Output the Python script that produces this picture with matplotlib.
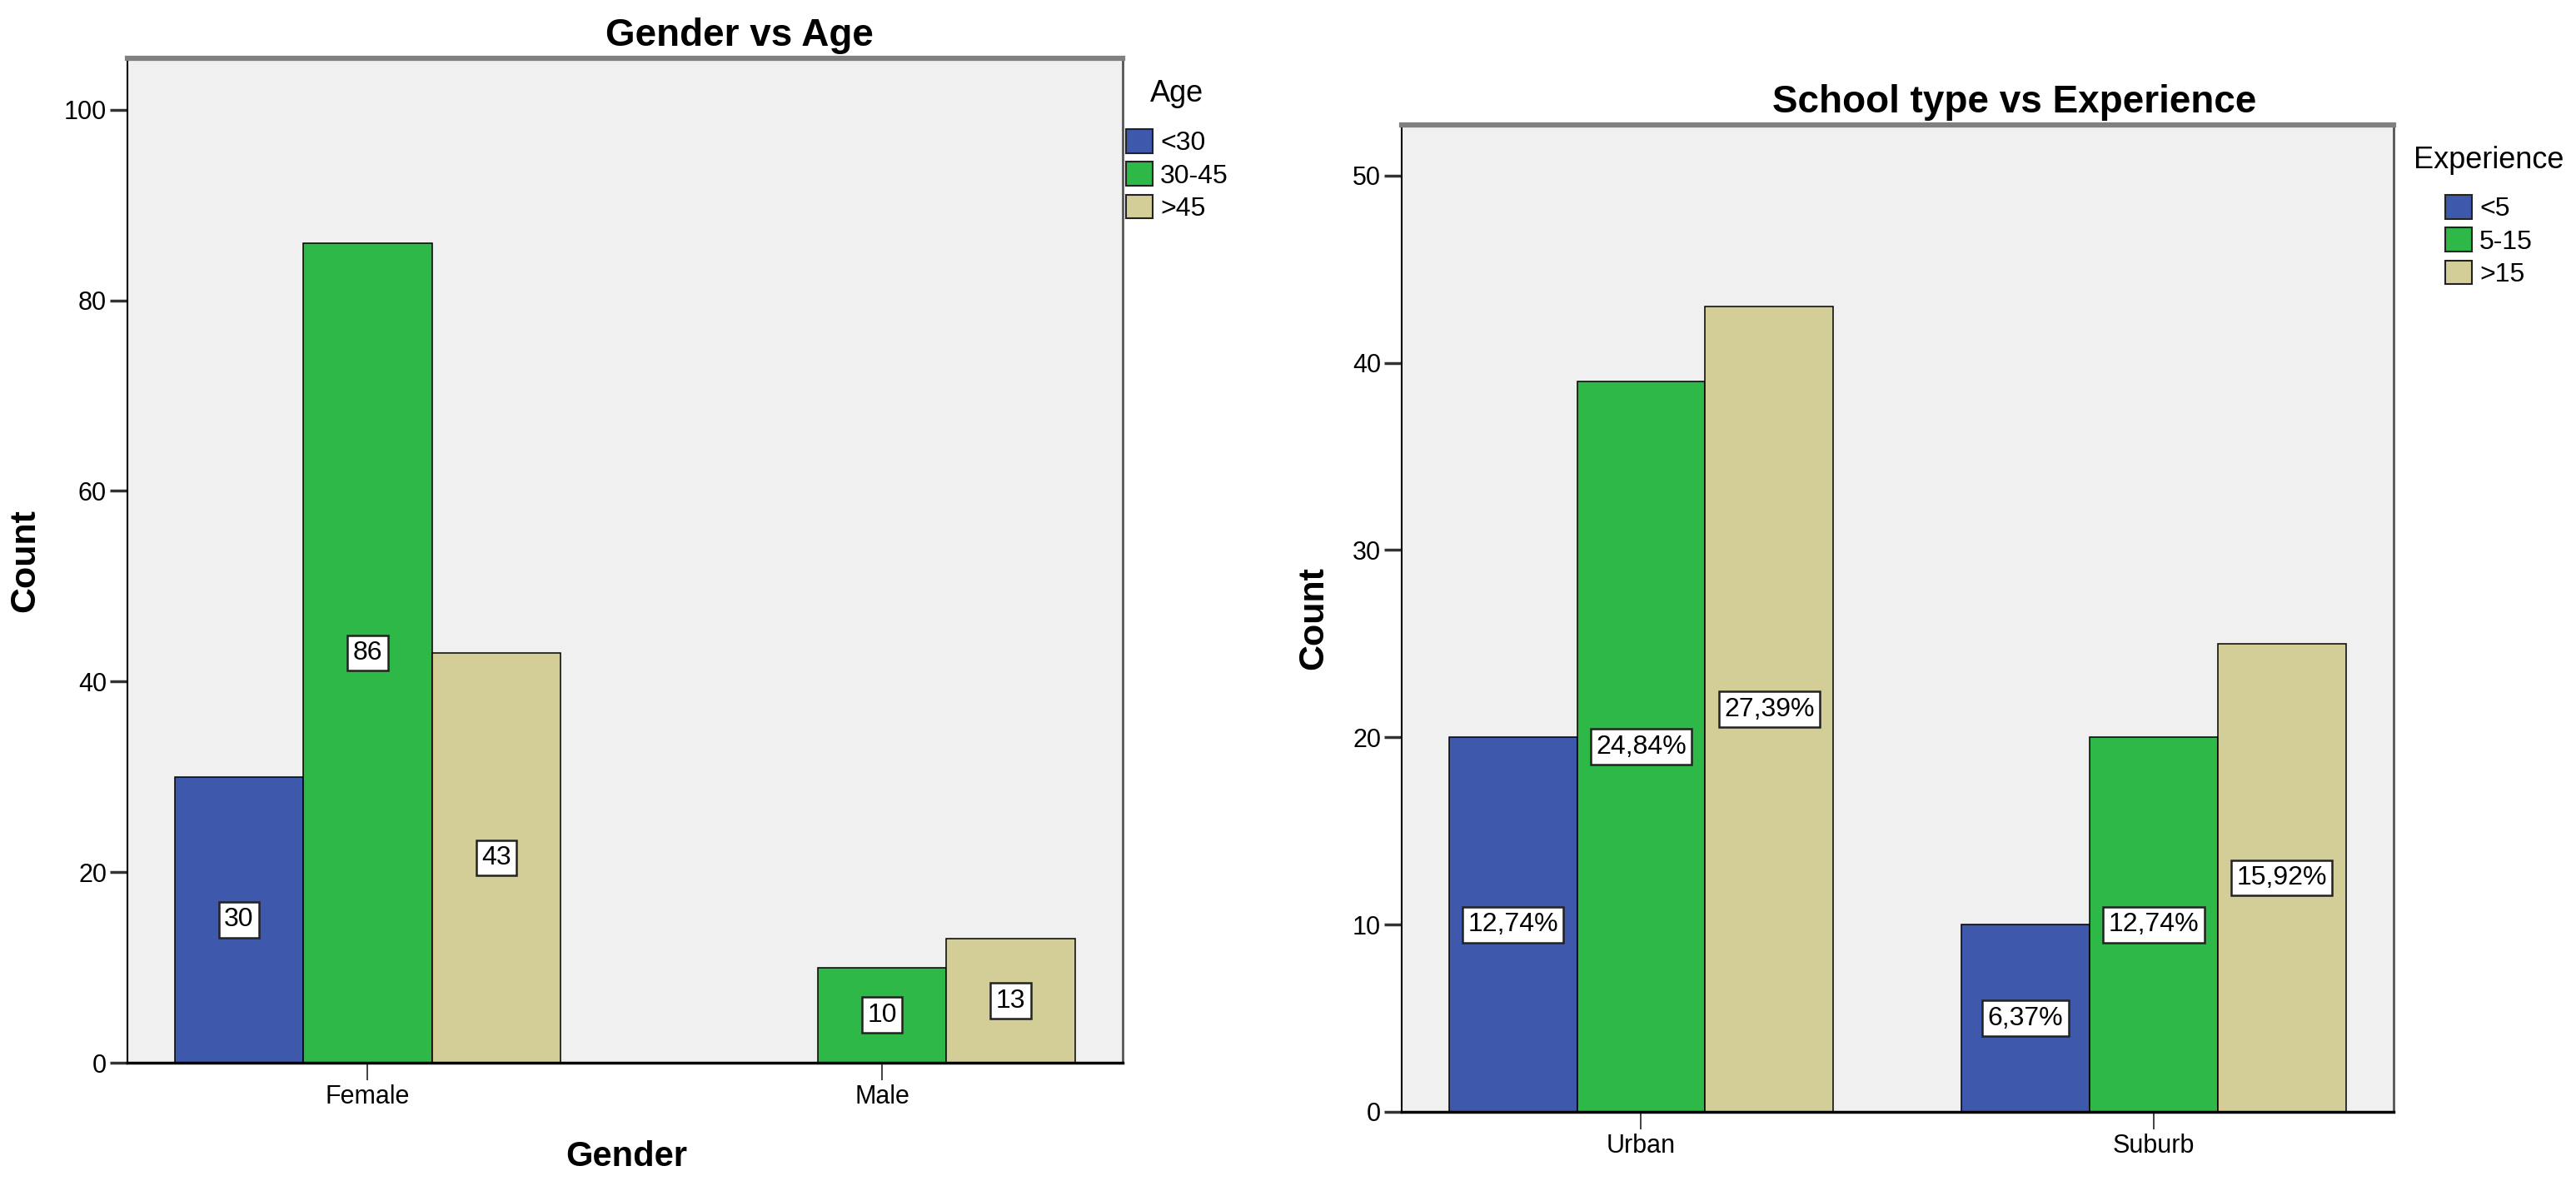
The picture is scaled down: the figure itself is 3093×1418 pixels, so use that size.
import numpy as np
import matplotlib
matplotlib.use('Agg')
import matplotlib.pyplot as plt
from matplotlib.patches import Patch

plt.rcParams['font.family'] = ['Liberation Sans', 'DejaVu Sans']

# data
genders = ['Female', 'Male']
age_groups = ['<30', '30-45', '>45']
age_counts = [[30, 0], [86, 10], [43, 13]]

schools = ['Urban', 'Suburb']
exp_groups = ['<5', '5-15', '>15']
exp_counts = [[20, 10], [39, 20], [43, 25]]
exp_pct = [['12,74%', '6,37%'], ['24,84%', '12,74%'], ['27,39%', '15,92%']]

colors = ['#3E58AC', '#2EB848', '#D3CE98']
bg = '#F0F0F0'

W, H = 3093, 1418
fig = plt.figure(figsize=(W / 100, H / 100), dpi=100)


def px_rect(x0, x1, ytop, ybot):
    return [x0 / W, (H - ybot) / H, (x1 - x0) / W, (ybot - ytop) / H]


def style_axes(ax, ymax, yticks):
    ax.set_facecolor(bg)
    ax.set_xlim(-0.467, 1.468)
    ax.set_ylim(0, ymax)
    ax.set_yticks(yticks)
    ax.spines['left'].set_color('black')
    ax.spines['left'].set_linewidth(1.5)
    ax.spines['bottom'].set_color('black')
    ax.spines['bottom'].set_linewidth(2.5)
    ax.spines['top'].set_color('#808080')
    ax.spines['top'].set_linewidth(4.5)
    ax.spines['right'].set_color('#555555')
    ax.spines['right'].set_linewidth(2)
    ax.tick_params(axis='y', length=15, width=2.5, color='#333333', pad=3, labelsize=22)
    ax.tick_params(axis='x', length=15, width=1.3, color='#333333', pad=4, labelsize=22)


def draw_bars(ax, cats, values, labels):
    x = np.arange(len(cats))
    w = 0.25
    for i, vals in enumerate(values):
        bars = ax.bar(x + (i - 1) * w, vals, w, color=colors[i], edgecolor='black', linewidth=1.1, zorder=2)
        ax.bar_label(bars, labels=labels[i], label_type='center', fontsize=23,
                     bbox=dict(boxstyle='square,pad=0.2', facecolor='white', edgecolor='#222222', linewidth=1.8))
    ax.set_xticks(x)
    ax.set_xticklabels(cats)


# left chart
ax1 = fig.add_axes(px_rect(153, 1348, 70, 1276))
style_axes(ax1, 105.4, [0, 20, 40, 60, 80, 100])
age_labels = [[str(v) if v > 0 else '' for v in row] for row in age_counts]
draw_bars(ax1, genders, age_counts, age_labels)

# right chart
ax2 = fig.add_axes(px_rect(1683, 2874, 150, 1335))
style_axes(ax2, 52.7, [0, 10, 20, 30, 40, 50])
draw_bars(ax2, schools, exp_counts, exp_pct)

# titles and axis labels
fig.text(888 / W, 1 - 55 / H, 'Gender vs Age', ha='center', va='baseline', fontsize=33, fontweight='bold')
fig.text(2419 / W, 1 - 135 / H, 'School type vs Experience', ha='center', va='baseline', fontsize=33, fontweight='bold')
fig.text(752 / W, 1 - 1400 / H, 'Gender', ha='center', va='baseline', fontsize=30, fontweight='bold')
fig.text(30 / W, 1 - 673 / H, 'Count', ha='center', va='center', rotation=90, fontsize=31, fontweight='bold')
fig.text(1577 / W, 1 - 742 / H, 'Count', ha='center', va='center', rotation=90, fontsize=31, fontweight='bold')

# legends
fig.text(1413 / W, 1 - 122 / H, 'Age', ha='center', va='baseline', fontsize=26)
fig.text(2988 / W, 1 - 202 / H, 'Experience', ha='center', va='baseline', fontsize=26)

for groups, x0, ytop in [(age_groups, 1352, 155), (exp_groups, 2936, 234)]:
    handles = [Patch(facecolor=c, edgecolor='#222222', linewidth=1.5) for c in colors]
    fig.legend(handles, groups, loc='upper left', bbox_to_anchor=(x0 / W, 1 - ytop / H),
               frameon=False, fontsize=23, handlelength=1.0, handleheight=1.0,
               handletextpad=0.28, labelspacing=0.225, borderpad=0, borderaxespad=0)

fig.savefig('out.png', dpi=100)
